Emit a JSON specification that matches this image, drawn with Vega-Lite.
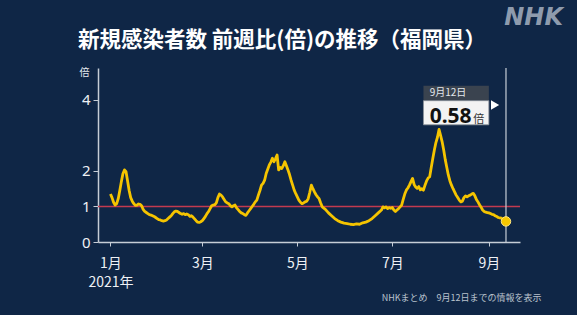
{
  "$schema": "https://vega.github.io/schema/vega-lite/v6.json",
  "width": 422,
  "height": 174,
  "autosize": {"type": "none"},
  "padding": {"left": 98, "top": 68, "right": 57, "bottom": 73},
  "background": "#0f2646",
  "config": {
    "view": {"stroke": null},
    "font": "Noto Sans CJK JP"
  },
  "title": {
    "text": "新規感染者数 前週比(倍)の推移（福岡県）",
    "anchor": "middle",
    "frame": "group",
    "dx": -27,
    "offset": -45,
    "fontSize": 21.5,
    "fontWeight": "bold",
    "color": "#ffffff",
    "font": "Noto Sans CJK JP"
  },
  "datasets": {
    "series": [
      {"date": "2021-01-01", "v": 1.35}, {"date": "2021-01-02", "v": 1.25}, {"date": "2021-01-03", "v": 1.12}, {"date": "2021-01-04", "v": 1.04},
      {"date": "2021-01-05", "v": 1.08}, {"date": "2021-01-06", "v": 1.22}, {"date": "2021-01-07", "v": 1.45}, {"date": "2021-01-08", "v": 1.7},
      {"date": "2021-01-09", "v": 1.92}, {"date": "2021-01-10", "v": 2.03}, {"date": "2021-01-11", "v": 1.98}, {"date": "2021-01-12", "v": 1.72},
      {"date": "2021-01-13", "v": 1.45}, {"date": "2021-01-14", "v": 1.25}, {"date": "2021-01-15", "v": 1.15}, {"date": "2021-01-16", "v": 1.08},
      {"date": "2021-01-17", "v": 1.03}, {"date": "2021-01-18", "v": 1.04}, {"date": "2021-01-19", "v": 1.07}, {"date": "2021-01-20", "v": 1.06},
      {"date": "2021-01-21", "v": 1.02}, {"date": "2021-01-22", "v": 0.92}, {"date": "2021-01-23", "v": 0.86}, {"date": "2021-01-24", "v": 0.83},
      {"date": "2021-01-25", "v": 0.8}, {"date": "2021-01-26", "v": 0.77}, {"date": "2021-01-27", "v": 0.76}, {"date": "2021-01-28", "v": 0.74},
      {"date": "2021-01-29", "v": 0.72}, {"date": "2021-01-30", "v": 0.69}, {"date": "2021-01-31", "v": 0.66}, {"date": "2021-02-01", "v": 0.63},
      {"date": "2021-02-02", "v": 0.62}, {"date": "2021-02-03", "v": 0.6}, {"date": "2021-02-04", "v": 0.59}, {"date": "2021-02-05", "v": 0.6},
      {"date": "2021-02-06", "v": 0.62}, {"date": "2021-02-07", "v": 0.66}, {"date": "2021-02-08", "v": 0.7}, {"date": "2021-02-09", "v": 0.74},
      {"date": "2021-02-10", "v": 0.8}, {"date": "2021-02-11", "v": 0.85}, {"date": "2021-02-12", "v": 0.87}, {"date": "2021-02-13", "v": 0.86},
      {"date": "2021-02-14", "v": 0.83}, {"date": "2021-02-15", "v": 0.8}, {"date": "2021-02-16", "v": 0.78}, {"date": "2021-02-17", "v": 0.8},
      {"date": "2021-02-18", "v": 0.77}, {"date": "2021-02-19", "v": 0.79}, {"date": "2021-02-20", "v": 0.77}, {"date": "2021-02-21", "v": 0.72},
      {"date": "2021-02-22", "v": 0.74}, {"date": "2021-02-23", "v": 0.7}, {"date": "2021-02-24", "v": 0.65}, {"date": "2021-02-25", "v": 0.6},
      {"date": "2021-02-26", "v": 0.56}, {"date": "2021-02-27", "v": 0.55}, {"date": "2021-02-28", "v": 0.57}, {"date": "2021-03-01", "v": 0.6},
      {"date": "2021-03-02", "v": 0.66}, {"date": "2021-03-03", "v": 0.72}, {"date": "2021-03-04", "v": 0.8}, {"date": "2021-03-05", "v": 0.86},
      {"date": "2021-03-06", "v": 0.94}, {"date": "2021-03-07", "v": 1.02}, {"date": "2021-03-08", "v": 1.04}, {"date": "2021-03-09", "v": 1.05},
      {"date": "2021-03-10", "v": 1.1}, {"date": "2021-03-11", "v": 1.25}, {"date": "2021-03-12", "v": 1.35}, {"date": "2021-03-13", "v": 1.32},
      {"date": "2021-03-14", "v": 1.27}, {"date": "2021-03-15", "v": 1.2}, {"date": "2021-03-16", "v": 1.13}, {"date": "2021-03-17", "v": 1.1},
      {"date": "2021-03-18", "v": 1.08}, {"date": "2021-03-19", "v": 1.02}, {"date": "2021-03-20", "v": 0.99}, {"date": "2021-03-21", "v": 1.02},
      {"date": "2021-03-22", "v": 1.04}, {"date": "2021-03-23", "v": 0.96}, {"date": "2021-03-24", "v": 0.91}, {"date": "2021-03-25", "v": 0.86},
      {"date": "2021-03-26", "v": 0.82}, {"date": "2021-03-27", "v": 0.8}, {"date": "2021-03-28", "v": 0.77}, {"date": "2021-03-29", "v": 0.75},
      {"date": "2021-03-30", "v": 0.82}, {"date": "2021-03-31", "v": 0.88}, {"date": "2021-04-01", "v": 0.94}, {"date": "2021-04-02", "v": 1.0},
      {"date": "2021-04-03", "v": 1.06}, {"date": "2021-04-04", "v": 1.13}, {"date": "2021-04-05", "v": 1.18}, {"date": "2021-04-06", "v": 1.32},
      {"date": "2021-04-07", "v": 1.45}, {"date": "2021-04-08", "v": 1.6}, {"date": "2021-04-09", "v": 1.65}, {"date": "2021-04-10", "v": 1.74},
      {"date": "2021-04-11", "v": 1.93}, {"date": "2021-04-12", "v": 2.05}, {"date": "2021-04-13", "v": 2.17}, {"date": "2021-04-14", "v": 2.25},
      {"date": "2021-04-15", "v": 2.36}, {"date": "2021-04-16", "v": 2.26}, {"date": "2021-04-17", "v": 2.35}, {"date": "2021-04-18", "v": 2.45},
      {"date": "2021-04-19", "v": 2.03}, {"date": "2021-04-20", "v": 2.1}, {"date": "2021-04-21", "v": 2.07}, {"date": "2021-04-22", "v": 2.15},
      {"date": "2021-04-23", "v": 2.26}, {"date": "2021-04-24", "v": 2.15}, {"date": "2021-04-25", "v": 2.03}, {"date": "2021-04-26", "v": 1.9},
      {"date": "2021-04-27", "v": 1.74}, {"date": "2021-04-28", "v": 1.6}, {"date": "2021-04-29", "v": 1.46}, {"date": "2021-04-30", "v": 1.36},
      {"date": "2021-05-01", "v": 1.27}, {"date": "2021-05-02", "v": 1.18}, {"date": "2021-05-03", "v": 1.12}, {"date": "2021-05-04", "v": 1.08},
      {"date": "2021-05-05", "v": 1.1}, {"date": "2021-05-06", "v": 1.13}, {"date": "2021-05-07", "v": 1.15}, {"date": "2021-05-08", "v": 1.22},
      {"date": "2021-05-09", "v": 1.4}, {"date": "2021-05-10", "v": 1.6}, {"date": "2021-05-11", "v": 1.5}, {"date": "2021-05-12", "v": 1.41},
      {"date": "2021-05-13", "v": 1.33}, {"date": "2021-05-14", "v": 1.27}, {"date": "2021-05-15", "v": 1.22}, {"date": "2021-05-16", "v": 1.1},
      {"date": "2021-05-17", "v": 0.99}, {"date": "2021-05-19", "v": 0.92}, {"date": "2021-05-21", "v": 0.82}, {"date": "2021-05-23", "v": 0.74},
      {"date": "2021-05-25", "v": 0.66}, {"date": "2021-05-27", "v": 0.6}, {"date": "2021-05-29", "v": 0.56}, {"date": "2021-05-31", "v": 0.53},
      {"date": "2021-06-02", "v": 0.52}, {"date": "2021-06-04", "v": 0.5}, {"date": "2021-06-06", "v": 0.49}, {"date": "2021-06-08", "v": 0.51},
      {"date": "2021-06-10", "v": 0.5}, {"date": "2021-06-12", "v": 0.54}, {"date": "2021-06-14", "v": 0.56}, {"date": "2021-06-16", "v": 0.6},
      {"date": "2021-06-18", "v": 0.66}, {"date": "2021-06-20", "v": 0.74}, {"date": "2021-06-22", "v": 0.82}, {"date": "2021-06-24", "v": 0.9},
      {"date": "2021-06-25", "v": 0.99}, {"date": "2021-06-26", "v": 0.96}, {"date": "2021-06-27", "v": 0.99}, {"date": "2021-06-28", "v": 0.94},
      {"date": "2021-06-29", "v": 0.97}, {"date": "2021-06-30", "v": 0.95}, {"date": "2021-07-01", "v": 0.97}, {"date": "2021-07-02", "v": 0.9},
      {"date": "2021-07-03", "v": 0.86}, {"date": "2021-07-04", "v": 0.9}, {"date": "2021-07-05", "v": 0.94}, {"date": "2021-07-06", "v": 0.99},
      {"date": "2021-07-07", "v": 1.04}, {"date": "2021-07-08", "v": 1.2}, {"date": "2021-07-09", "v": 1.35}, {"date": "2021-07-10", "v": 1.46},
      {"date": "2021-07-11", "v": 1.52}, {"date": "2021-07-12", "v": 1.6}, {"date": "2021-07-13", "v": 1.7}, {"date": "2021-07-14", "v": 1.79},
      {"date": "2021-07-15", "v": 1.62}, {"date": "2021-07-16", "v": 1.55}, {"date": "2021-07-17", "v": 1.51}, {"date": "2021-07-18", "v": 1.56},
      {"date": "2021-07-19", "v": 1.47}, {"date": "2021-07-20", "v": 1.5}, {"date": "2021-07-21", "v": 1.46}, {"date": "2021-07-22", "v": 1.6},
      {"date": "2021-07-23", "v": 1.72}, {"date": "2021-07-24", "v": 1.8}, {"date": "2021-07-25", "v": 1.84}, {"date": "2021-07-26", "v": 2.1},
      {"date": "2021-07-27", "v": 2.35}, {"date": "2021-07-28", "v": 2.59}, {"date": "2021-07-29", "v": 2.8}, {"date": "2021-07-30", "v": 2.95},
      {"date": "2021-07-31", "v": 3.17}, {"date": "2021-08-01", "v": 3.0}, {"date": "2021-08-02", "v": 2.82}, {"date": "2021-08-03", "v": 2.59},
      {"date": "2021-08-04", "v": 2.32}, {"date": "2021-08-05", "v": 2.1}, {"date": "2021-08-06", "v": 1.88}, {"date": "2021-08-07", "v": 1.72},
      {"date": "2021-08-08", "v": 1.6}, {"date": "2021-08-09", "v": 1.5}, {"date": "2021-08-10", "v": 1.41}, {"date": "2021-08-11", "v": 1.32},
      {"date": "2021-08-12", "v": 1.25}, {"date": "2021-08-13", "v": 1.18}, {"date": "2021-08-14", "v": 1.13}, {"date": "2021-08-15", "v": 1.15},
      {"date": "2021-08-16", "v": 1.25}, {"date": "2021-08-17", "v": 1.3}, {"date": "2021-08-18", "v": 1.27}, {"date": "2021-08-19", "v": 1.3},
      {"date": "2021-08-20", "v": 1.32}, {"date": "2021-08-21", "v": 1.35}, {"date": "2021-08-22", "v": 1.37}, {"date": "2021-08-23", "v": 1.3},
      {"date": "2021-08-24", "v": 1.2}, {"date": "2021-08-25", "v": 1.13}, {"date": "2021-08-26", "v": 1.05}, {"date": "2021-08-27", "v": 0.98},
      {"date": "2021-08-28", "v": 0.9}, {"date": "2021-08-29", "v": 0.86}, {"date": "2021-08-30", "v": 0.84}, {"date": "2021-08-31", "v": 0.83},
      {"date": "2021-09-01", "v": 0.82}, {"date": "2021-09-02", "v": 0.8}, {"date": "2021-09-03", "v": 0.78}, {"date": "2021-09-04", "v": 0.77},
      {"date": "2021-09-05", "v": 0.74}, {"date": "2021-09-06", "v": 0.72}, {"date": "2021-09-07", "v": 0.69}, {"date": "2021-09-08", "v": 0.68},
      {"date": "2021-09-09", "v": 0.67}, {"date": "2021-09-10", "v": 0.64}, {"date": "2021-09-11", "v": 0.62}, {"date": "2021-09-12", "v": 0.58}
    ],
    "last": [
      {"date": "2021-09-12", "v": 0.58, "day": "9月12日", "label": "0.58", "unit": "倍", "brand": "NHK"}
    ]
  },
  "layer": [
    {
      "data": {"name": "last"},
      "mark": {"type": "rule", "color": "#c23a4f", "strokeWidth": 1.5},
      "encoding": {
        "y": {
          "datum": 1,
          "type": "quantitative",
          "scale": {"domain": [0, 4.9], "nice": false},
          "axis": {
            "values": [0, 1, 2, 4],
            "format": "d",
            "title": "倍",
            "titleAngle": 0,
            "titleX": -14,
            "titleY": 4,
            "titleAlign": "center",
            "titleBaseline": "middle",
            "titleFontSize": 10,
            "titleFontWeight": "normal",
            "titleColor": "#e6eaef",
            "labelFontSize": 15,
            "labelColor": "#eef1f5",
            "labelPadding": 3,
            "labelFont": "Noto Sans",
            "tickSize": 5,
            "tickColor": "#c6cdd6",
            "domainColor": "#c6cdd6",
            "domainWidth": 1.5,
            "gridColor": "#2c4668",
            "gridWidth": 1
          }
        }
      }
    },
    {
      "data": {"name": "last"},
      "mark": {"type": "rule", "color": "#c6cdd6", "strokeWidth": 1.2},
      "encoding": {
        "x": {"datum": {"year": 2021, "month": 9, "date": 12, "utc": true}, "type": "temporal"}
      }
    },
    {
      "data": {"name": "series"},
      "mark": {"type": "line", "color": "#f5c400", "strokeWidth": 2.8, "strokeJoin": "round"},
      "encoding": {
        "x": {
          "field": "date",
          "type": "temporal",
          "scale": {
            "type": "utc",
            "domain": [
              {"year": 2020, "month": 12, "date": 24, "utc": true},
              {"year": 2021, "month": 9, "date": 21, "utc": true}
            ],
            "nice": false
          },
          "axis": {
            "values": [
              {"year": 2021, "month": 1, "date": 1, "utc": true},
              {"year": 2021, "month": 3, "date": 1, "utc": true},
              {"year": 2021, "month": 5, "date": 1, "utc": true},
              {"year": 2021, "month": 7, "date": 1, "utc": true},
              {"year": 2021, "month": 9, "date": 1, "utc": true}
            ],
            "labelExpr": "utcmonth(datum.value) == 0 ? ['1月', '2021年'] : (utcmonth(datum.value) + 1) + '月'",
            "labelFontSize": 14,
            "labelLineHeight": 19,
            "labelColor": "#eef1f5",
            "labelPadding": 10,
            "labelFont": "Noto Sans CJK JP",
            "tickSize": 4,
            "tickColor": "#c6cdd6",
            "domainColor": "#c6cdd6",
            "domainWidth": 1.5,
            "grid": false,
            "title": "NHKまとめ　9月12日までの情報を表示",
            "titleX": 443,
            "titleY": 55,
            "titleAlign": "right",
            "titleAnchor": null,
            "titleBaseline": "middle",
            "titleFontSize": 9,
            "titleFontWeight": "normal",
            "titleColor": "#b9c2cd",
            "titleFont": "Noto Sans CJK JP"
          }
        },
        "y": {"field": "v", "type": "quantitative"}
      }
    },
    {
      "data": {"name": "last"},
      "mark": {"type": "point", "filled": true, "size": 90, "color": "#f7c700", "stroke": "#ffe680", "strokeWidth": 1, "opacity": 1},
      "encoding": {
        "x": {"field": "date", "type": "temporal"},
        "y": {"field": "v", "type": "quantitative"}
      }
    },
    {
      "data": {"name": "last"},
      "mark": {"type": "rect", "color": "#3d4550", "opacity": 0.95},
      "encoding": {
        "x": {"datum": {"year": 2021, "month": 7, "date": 21, "utc": true}, "type": "temporal"},
        "x2": {"datum": {"year": 2021, "month": 9, "date": 1, "utc": true}},
        "y": {"datum": 4.4, "type": "quantitative"},
        "y2": {"datum": 3.98}
      }
    },
    {
      "data": {"name": "last"},
      "mark": {"type": "rect", "color": "#f3f3f3", "stroke": "#8a9099", "strokeWidth": 0.8},
      "encoding": {
        "x": {"datum": {"year": 2021, "month": 7, "date": 21, "utc": true}, "type": "temporal"},
        "x2": {"datum": {"year": 2021, "month": 9, "date": 1, "utc": true}},
        "y": {"datum": 3.98, "type": "quantitative"},
        "y2": {"datum": 3.3}
      }
    },
    {
      "data": {"name": "last"},
      "mark": {"type": "text", "align": "left", "baseline": "middle", "fontSize": 10, "color": "#e3e7ec", "font": "Noto Sans CJK JP"},
      "encoding": {
        "x": {"datum": {"year": 2021, "month": 7, "date": 25, "utc": true}, "type": "temporal"},
        "y": {"datum": 4.19, "type": "quantitative"},
        "text": {"field": "day"}
      }
    },
    {
      "data": {"name": "last"},
      "mark": {"type": "text", "align": "left", "baseline": "alphabetic", "fontSize": 21, "fontWeight": "bold", "color": "#111111", "font": "Noto Sans"},
      "encoding": {
        "x": {"datum": {"year": 2021, "month": 7, "date": 25, "utc": true}, "type": "temporal"},
        "y": {"datum": 3.36, "type": "quantitative"},
        "text": {"field": "label"}
      }
    },
    {
      "data": {"name": "last"},
      "mark": {"type": "text", "align": "left", "baseline": "alphabetic", "fontSize": 11, "color": "#333333", "font": "Noto Sans CJK JP"},
      "encoding": {
        "x": {"datum": {"year": 2021, "month": 8, "date": 22, "utc": true}, "type": "temporal"},
        "y": {"datum": 3.36, "type": "quantitative"},
        "text": {"field": "unit"}
      }
    },
    {
      "data": {"name": "last"},
      "mark": {"type": "point", "shape": "triangle-right", "filled": true, "size": 90, "color": "#ffffff", "opacity": 1},
      "encoding": {
        "x": {"datum": {"year": 2021, "month": 9, "date": 5, "utc": true}, "type": "temporal"},
        "y": {"datum": 3.86, "type": "quantitative"}
      }
    },
    {
      "data": {"name": "last"},
      "mark": {"type": "text", "align": "right", "baseline": "middle", "fontSize": 24, "fontWeight": "bold", "fontStyle": "italic", "color": "#8e9bad", "font": "DejaVu Sans", "dx": 43, "dy": -50},
      "encoding": {
        "x": {"datum": {"year": 2021, "month": 9, "date": 21, "utc": true}, "type": "temporal"},
        "y": {"datum": 4.9, "type": "quantitative"},
        "text": {"field": "brand"}
      }
    }
  ]
}
